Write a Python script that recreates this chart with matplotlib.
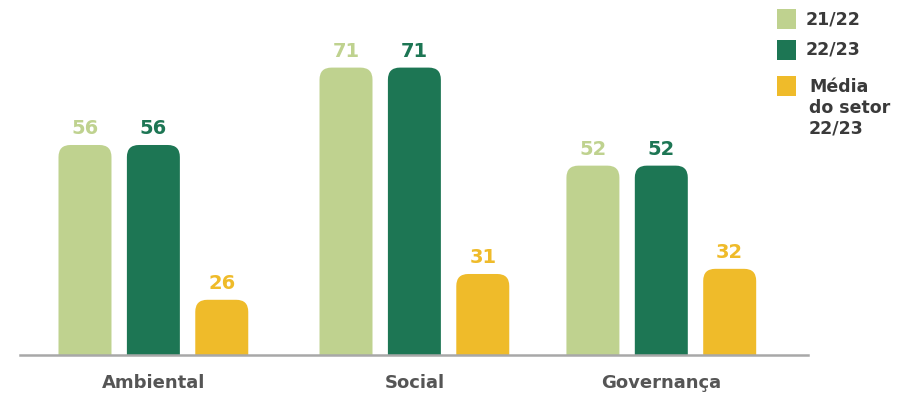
import matplotlib
matplotlib.use("Agg")
import matplotlib.pyplot as plt
from matplotlib.patches import FancyBboxPatch, Rectangle

categories = ["Ambiental", "Social", "Governança"]
series_names = ["21/22", "22/23", "Média\ndo setor\n22/23"]
v_2122 = [56, 71, 52]
v_2223 = [56, 71, 52]
v_setor = [26, 31, 32]
colors = ["#bfd28f", "#1d7654", "#efbb2a"]

plt.rcParams['font.family'] = ['DejaVu Sans']

centers = [0.0, 1.0, 1.946]
offsets = [-0.262, 0.0, 0.262]
width = 0.203

fig = plt.figure(figsize=(9.22, 3.98), dpi=100)
ax = fig.add_axes([20 / 922, 43 / 398, 788 / 922, 355 / 398])
ax.set_xlim(-0.511, 2.508)
ax.set_ylim(15.3, 84.1)

rx = 0.046
ry = 2.33

for vals, off, col in zip([v_2122, v_2223, v_setor], offsets, colors):
    for c, v in zip(centers, vals):
        x0 = c + off - width / 2
        p = FancyBboxPatch((x0, 0), width, v,
                           boxstyle=f"round,pad=0,rounding_size={rx}",
                           mutation_aspect=ry / rx,
                           facecolor=col, edgecolor="none", zorder=2)
        ax.add_patch(p)
        ax.annotate(str(v), (c + off, v), xytext=(0, 5), textcoords="offset points",
                    ha="center", va="bottom", color=col, fontsize=14,
                    fontweight="bold")

for s in ["top", "right", "left"]:
    ax.spines[s].set_visible(False)
ax.spines["bottom"].set_color("#a8a8a8")
ax.spines["bottom"].set_linewidth(1.8)
ax.spines["bottom"].set_zorder(3)
ax.set_yticks([])
ax.set_xticks(centers)
ax.set_xticklabels(categories, fontsize=13, fontweight="bold", color="#555555")
ax.tick_params(axis="x", length=0, pad=14)

# legend
leg_y = [19, 50, 86]
for name, col, yy in zip(series_names, colors, leg_y):
    fig.patches.append(Rectangle((777 / 922, 1 - (yy + 9.5) / 398), 19 / 922, 19 / 398,
                                 transform=fig.transFigure, facecolor=col,
                                 edgecolor="none"))
    if "\n" not in name:
        fig.text(806 / 922, 1 - yy / 398, name, ha="left", va="center",
                 fontsize=12.5, fontweight="bold", color="#3a3a3a")
    else:
        fig.text(809 / 922, 1 - 78 / 398, name, ha="left", va="top", fontsize=12.5,
                 fontweight="bold", color="#3a3a3a", linespacing=1.2)

fig.savefig("out.png", dpi=100)
